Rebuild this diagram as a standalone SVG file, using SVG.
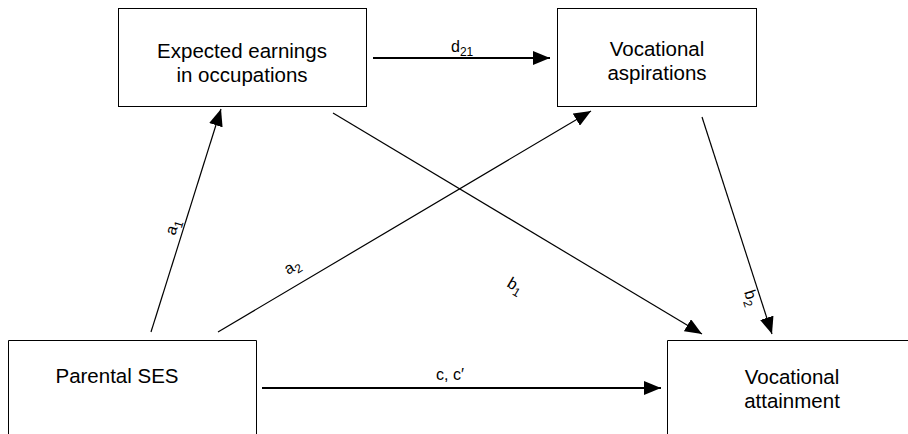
<svg xmlns="http://www.w3.org/2000/svg" width="908" height="434" viewBox="0 0 908 434">
<defs>
<marker id="ah" viewBox="0 0 17 14" refX="17" refY="7" markerWidth="17" markerHeight="14" markerUnits="userSpaceOnUse" orient="auto">
<path d="M0,0 L17,7 L0,14 Z" fill="#000"/>
</marker>
</defs>
<style>
.box{fill:#fff;stroke:#000;stroke-width:1}
.t{font-family:"Liberation Sans",Arial,sans-serif;font-size:20.5px;fill:#000;text-anchor:middle}
.l{font-family:"Liberation Sans",Arial,sans-serif;font-size:16px;fill:#000}
.s{font-size:12px}
.thin{stroke:#000;stroke-width:1.2;fill:none}
.thick{stroke:#000;stroke-width:2.2;fill:none}
</style>
<rect width="908" height="434" fill="#fff"/>
<g id="expected">
<rect class="box" x="118.5" y="8.5" width="248" height="98"/>
<text class="t" x="242" y="58">Expected earnings</text>
<text class="t" x="242" y="82">in occupations</text>
</g>
<g id="aspirations">
<rect class="box" x="557.5" y="8.5" width="199" height="98"/>
<text class="t" x="657" y="56">Vocational</text>
<text class="t" x="657" y="80">aspirations</text>
</g>
<g id="ses">
<path class="box" d="M8.5,434 V340.5 H256.5 V434"/>
<text class="t" x="117" y="383">Parental SES</text>
</g>
<g id="attainment">
<path class="box" d="M667.5,434 V340.5 H908"/>
<text class="t" x="792" y="384">Vocational</text>
<text class="t" x="792" y="408">attainment</text>
</g>
<g id="connectors">
<line class="thick" x1="373" y1="58" x2="550" y2="58" marker-end="url(#ah)"/>
<line class="thick" x1="262" y1="388" x2="661" y2="388" marker-end="url(#ah)"/>
<line class="thin" x1="151" y1="332" x2="221" y2="109" marker-end="url(#ah)"/>
<line class="thin" x1="218" y1="332" x2="591" y2="111" marker-end="url(#ah)"/>
<line class="thin" x1="333" y1="113" x2="702" y2="334" marker-end="url(#ah)"/>
<line class="thin" x1="702" y1="117" x2="772" y2="334" marker-end="url(#ah)"/>
<text class="l" x="451" y="52">d<tspan class="s" dy="4">21</tspan></text>
<text class="l" x="436" y="380">c, c′</text>
<text class="l" transform="translate(175,236) rotate(-72)">a<tspan class="s" dy="4">1</tspan></text>
<text class="l" transform="translate(288,275) rotate(-31)">a<tspan class="s" dy="4">2</tspan></text>
<text class="l" transform="translate(506,286) rotate(31)">b<tspan class="s" dy="4">1</tspan></text>
<text class="l" transform="translate(744,292) rotate(72)">b<tspan class="s" dy="4">2</tspan></text>
</g>
</svg>
